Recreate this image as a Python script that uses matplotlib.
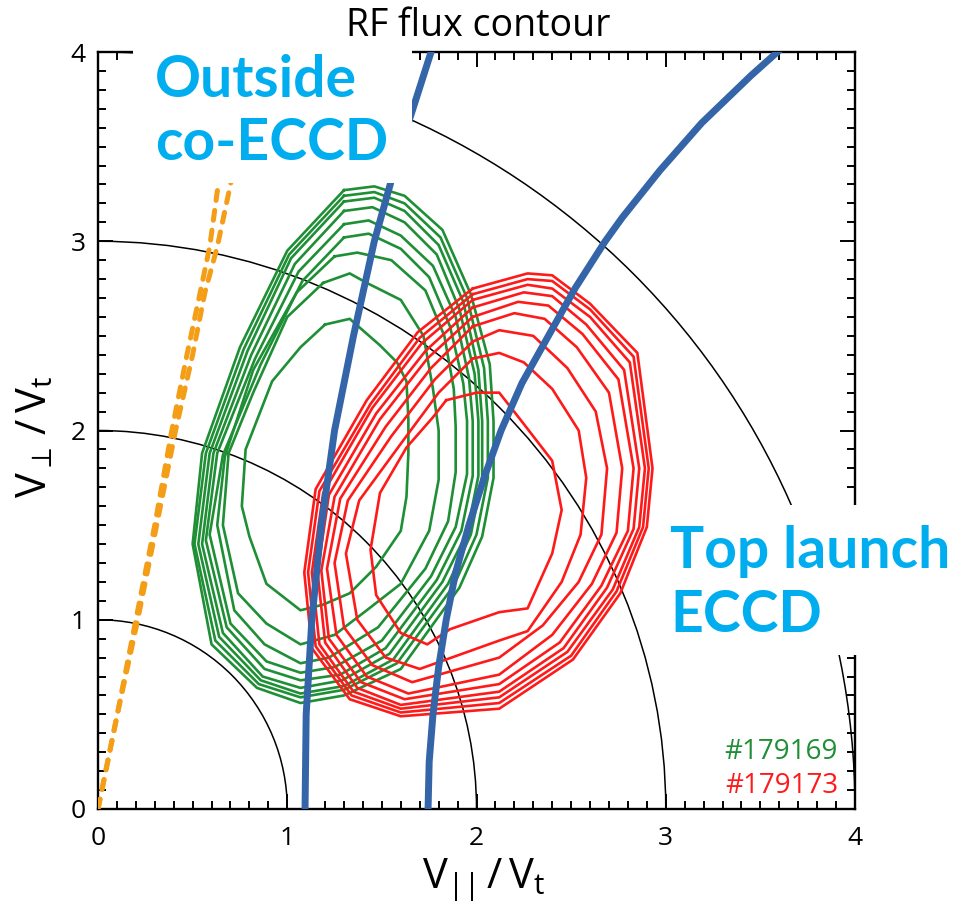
import matplotlib.pyplot as plt
from matplotlib.patches import Arc, Rectangle
from matplotlib.ticker import MultipleLocator

plt.rcParams['font.family'] = ['Open Sans', 'DejaVu Sans']
plt.rcParams['mathtext.fontset'] = 'custom'
plt.rcParams['mathtext.rm'] = 'Open Sans'
plt.rcParams['mathtext.it'] = 'Open Sans'

# ---- values ----
circle_radii = [1, 2, 3, 4]

# resonance curves (V_par, V_perp)
outside_x = [1.094, 1.10, 1.13, 1.18, 1.25, 1.35, 1.46, 1.60, 1.76]
outside_y = [0.0, 0.5, 1.0, 1.5, 2.0, 2.5, 3.0, 3.5, 4.0]
top_x = [1.744, 1.75, 1.77, 1.80, 1.84, 1.89, 1.96, 2.04, 2.13, 2.24, 2.38,
         2.52, 2.68, 2.77, 2.87, 2.97, 3.08, 3.19, 3.32, 3.45, 3.59]
top_y = [0.0, 0.25, 0.5, 0.75, 1.0, 1.25, 1.5, 1.75, 2.0, 2.25, 2.5,
         2.75, 3.0, 3.125, 3.25, 3.375, 3.5, 3.625, 3.75, 3.875, 4.0]

# dashed orange lines from the origin
orange1_x = [0.0, 0.10, 0.20, 0.30, 0.39, 0.47, 0.54, 0.59, 0.634, 0.66]
orange1_y = [0.0, 0.49, 1.0, 1.5, 2.0, 2.4, 2.73, 2.97, 3.29, 3.5]
orange2_x = [0.0, 0.10, 0.21, 0.31, 0.41, 0.50, 0.565, 0.63, 0.70, 0.74]
orange2_y = [0.0, 0.49, 1.0, 1.5, 2.0, 2.4, 2.73, 2.97, 3.30, 3.5]

# RF flux contours, shot 179169 (outer -> inner)
green_contours = [
    [(1.30, 3.27), (1.46, 3.29), (1.62, 3.24), (1.82, 3.06), (1.97, 2.72), (2.07, 2.35), (2.09, 2.05),
     (2.09, 1.75), (2.03, 1.44), (1.91, 1.17), (1.60, 0.74), (1.30, 0.60), (1.07, 0.56), (0.84, 0.64),
     (0.60, 0.87), (0.50, 1.40), (0.55, 1.88), (0.75, 2.44), (1.00, 2.95)],
    [(1.30, 3.24), (1.46, 3.26), (1.62, 3.20), (1.81, 3.02), (1.95, 2.70), (2.04, 2.33), (2.06, 2.05),
     (2.06, 1.75), (2.00, 1.45), (1.88, 1.18), (1.58, 0.77), (1.30, 0.63), (1.07, 0.59), (0.85, 0.66),
     (0.62, 0.89), (0.51, 1.40), (0.57, 1.88), (0.77, 2.43), (1.01, 2.93)],
    [(1.30, 3.21), (1.46, 3.23), (1.62, 3.16), (1.80, 2.98), (1.93, 2.68), (2.01, 2.32), (2.03, 2.05),
     (2.03, 1.75), (1.97, 1.45), (1.85, 1.19), (1.56, 0.79), (1.30, 0.65), (1.07, 0.61), (0.86, 0.68),
     (0.64, 0.91), (0.53, 1.40), (0.59, 1.88), (0.79, 2.42), (1.02, 2.91)],
    [(1.30, 3.16), (1.45, 3.18), (1.62, 3.10), (1.79, 2.93), (1.91, 2.64), (1.99, 2.30), (2.01, 2.05),
     (2.01, 1.76), (1.95, 1.46), (1.82, 1.20), (1.54, 0.82), (1.29, 0.68), (1.07, 0.64), (0.87, 0.70),
     (0.66, 0.93), (0.55, 1.40), (0.61, 1.88), (0.81, 2.40), (1.04, 2.88)],
    [(1.30, 3.09), (1.43, 3.11), (1.60, 3.03), (1.77, 2.87), (1.89, 2.60), (1.96, 2.28), (1.98, 2.05),
     (1.98, 1.76), (1.92, 1.47), (1.79, 1.21), (1.52, 0.85), (1.28, 0.71), (1.07, 0.68), (0.88, 0.74),
     (0.68, 0.96), (0.57, 1.42), (0.63, 1.88), (0.83, 2.38), (1.06, 2.84)],
    [(1.30, 3.02), (1.43, 3.04), (1.60, 2.96), (1.75, 2.81), (1.86, 2.55), (1.93, 2.25), (1.95, 2.05),
     (1.95, 1.77), (1.89, 1.49), (1.76, 1.23), (1.50, 0.89), (1.25, 0.75), (1.07, 0.72), (0.89, 0.78),
     (0.70, 0.98), (0.59, 1.45), (0.66, 1.87), (0.86, 2.35), (1.08, 2.79)],
    [(1.25, 2.92), (1.37, 2.94), (1.55, 2.90), (1.73, 2.74), (1.83, 2.50), (1.88, 2.22), (1.89, 2.02),
     (1.89, 1.78), (1.85, 1.52), (1.73, 1.27), (1.48, 0.96), (1.22, 0.80), (1.07, 0.77), (0.88, 0.87),
     (0.72, 1.05), (0.63, 1.50), (0.67, 1.86), (0.82, 2.32), (1.05, 2.73)],
    [(1.19, 2.78), (1.33, 2.83), (1.42, 2.78), (1.60, 2.69), (1.72, 2.50), (1.77, 2.22), (1.80, 2.00),
     (1.80, 1.74), (1.75, 1.47), (1.60, 1.19), (1.42, 1.05), (1.25, 0.92), (1.07, 0.87), (0.89, 0.98),
     (0.74, 1.14), (0.66, 1.50), (0.69, 1.88), (0.82, 2.20), (1.00, 2.60)],
    [(1.20, 2.56), (1.33, 2.59), (1.49, 2.45), (1.58, 2.36), (1.63, 2.26), (1.64, 2.06), (1.64, 1.88),
     (1.63, 1.65), (1.60, 1.47), (1.47, 1.28), (1.33, 1.14), (1.19, 1.08), (1.07, 1.05), (0.89, 1.19),
     (0.80, 1.44), (0.76, 1.60), (0.78, 1.90), (0.92, 2.26), (1.07, 2.44)],
]

# RF flux contours, shot 179173 (outer -> inner)
red_contours = [
    [(1.98, 2.75), (2.27, 2.83), (2.40, 2.82), (2.60, 2.67), (2.85, 2.41), (2.93, 1.80), (2.90, 1.49),
     (2.76, 1.14), (2.51, 0.79), (2.12, 0.53), (1.60, 0.49), (1.33, 0.58), (1.13, 0.85), (1.09, 1.25),
     (1.15, 1.69), (1.42, 2.16), (1.69, 2.52)],
    [(1.98, 2.72), (2.27, 2.80), (2.40, 2.79), (2.60, 2.64), (2.83, 2.39), (2.91, 1.80), (2.88, 1.49),
     (2.74, 1.15), (2.50, 0.81), (2.12, 0.56), (1.60, 0.51), (1.34, 0.60), (1.15, 0.86), (1.11, 1.25),
     (1.17, 1.68), (1.44, 2.14), (1.70, 2.49)],
    [(1.98, 2.69), (2.27, 2.77), (2.40, 2.75), (2.60, 2.60), (2.81, 2.36), (2.89, 1.80), (2.86, 1.49),
     (2.72, 1.16), (2.48, 0.83), (2.12, 0.59), (1.60, 0.53), (1.35, 0.62), (1.17, 0.87), (1.13, 1.25),
     (1.19, 1.67), (1.45, 2.12), (1.71, 2.46)],
    [(1.98, 2.65), (2.25, 2.73), (2.40, 2.71), (2.58, 2.56), (2.78, 2.32), (2.86, 1.80), (2.83, 1.48),
     (2.69, 1.17), (2.46, 0.85), (2.12, 0.62), (1.60, 0.55), (1.37, 0.64), (1.20, 0.88), (1.16, 1.25),
     (1.22, 1.66), (1.47, 2.09), (1.73, 2.42)],
    [(1.98, 2.60), (2.22, 2.68), (2.38, 2.66), (2.56, 2.51), (2.75, 2.27), (2.83, 1.80), (2.80, 1.47),
     (2.66, 1.18), (2.44, 0.88), (2.12, 0.66), (1.62, 0.58), (1.39, 0.67), (1.22, 0.90), (1.18, 1.26),
     (1.25, 1.65), (1.49, 2.06), (1.74, 2.38)],
    [(1.98, 2.55), (2.20, 2.62), (2.36, 2.59), (2.53, 2.44), (2.70, 2.20), (2.77, 1.80), (2.74, 1.46),
     (2.61, 1.19), (2.40, 0.92), (2.12, 0.71), (1.64, 0.61), (1.42, 0.70), (1.26, 0.92), (1.21, 1.27),
     (1.28, 1.64), (1.52, 2.02), (1.76, 2.33)],
    [(1.98, 2.47), (2.12, 2.53), (2.30, 2.50), (2.48, 2.33), (2.63, 2.10), (2.69, 1.80), (2.66, 1.45),
     (2.54, 1.20), (2.35, 0.97), (2.12, 0.80), (1.66, 0.67), (1.45, 0.76), (1.30, 0.96), (1.25, 1.30),
     (1.32, 1.63), (1.55, 1.97), (1.78, 2.27)],
    [(1.98, 2.38), (2.12, 2.41), (2.25, 2.36), (2.40, 2.22), (2.54, 2.00), (2.58, 1.75), (2.55, 1.45),
     (2.45, 1.20), (2.27, 0.94), (2.12, 0.89), (1.70, 0.74), (1.52, 0.80), (1.37, 1.00), (1.31, 1.35),
     (1.38, 1.63), (1.60, 1.93), (1.80, 2.20)],
    [(1.84, 2.16), (2.00, 2.20), (2.12, 2.20), (2.23, 2.06), (2.40, 1.84), (2.45, 1.58), (2.40, 1.35),
     (2.27, 1.06), (2.12, 1.04), (1.86, 0.95), (1.74, 0.87), (1.60, 0.93), (1.47, 1.13), (1.44, 1.37),
     (1.49, 1.67), (1.63, 1.91), (1.77, 2.07)],
]

shots = ['#179169', '#179173']

GREEN = '#1f8f36'
RED = '#ff1a1a'
BLUE = '#3465a8'
ORANGE = '#f49e17'
CYAN = '#00aeef'

W, H = 959, 902
fig = plt.figure(figsize=(W / 100, H / 100), dpi=100)
ax = fig.add_axes([98 / W, 1 - 809 / H, 757 / W, 757 / H])

# reference circles |v| = const
for r in circle_radii:
    ax.add_patch(Arc((0, 0), 2 * r, 2 * r, theta1=0, theta2=90,
                     color='black', lw=1.1, zorder=1))

for c in green_contours:
    xs = [p[0] for p in c] + [c[0][0]]
    ys = [p[1] for p in c] + [c[0][1]]
    ax.plot(xs, ys, color=GREEN, lw=1.9, zorder=2)

for c in red_contours:
    xs = [p[0] for p in c] + [c[0][0]]
    ys = [p[1] for p in c] + [c[0][1]]
    ax.plot(xs, ys, color=RED, lw=1.9, zorder=3)

ax.plot(outside_x, outside_y, color=BLUE, lw=5, zorder=4)
ax.plot(top_x, top_y, color=BLUE, lw=5, zorder=4)

for ox, oy in [(orange1_x, orange1_y), (orange2_x, orange2_y)]:
    ax.plot(ox, oy, color=ORANGE, lw=3.6, linestyle=(0, (2, 2)),
            dash_capstyle='round', zorder=5)

ax.set_xlim(0, 4)
ax.set_ylim(0, 4)
ax.set_xticks([0, 1, 2, 3, 4])
ax.set_yticks([0, 1, 2, 3, 4])
ax.xaxis.set_minor_locator(MultipleLocator(0.1))
ax.yaxis.set_minor_locator(MultipleLocator(0.1))
ax.tick_params(which='both', direction='in', top=True, right=True, width=1.4)
ax.tick_params(which='major', length=10.8, labelsize=19)
ax.tick_params(which='minor', length=5.8)
ax.tick_params(axis='x', pad=12)
ax.tick_params(axis='y', pad=9)
for s in ax.spines.values():
    s.set_linewidth(1.7)

ax.text(3.91, 0.264, shots[0], color=GREEN, fontsize=20, ha='right', va='baseline', zorder=6)
ax.text(3.91, 0.085, shots[1], color=RED, fontsize=20, ha='right', va='baseline', zorder=6)

# titles and axis labels
fig.text(478 / W, 1 - 36 / H, 'RF flux contour', fontsize=27, ha='center', va='baseline')
fig.text(484 / W, 1 - 888 / H, r'$\mathregular{V_{||}\,/\,V_t}$', fontsize=30,
         ha='center', va='baseline')
fig.text(35 / W, 1 - 437 / H, r'$\mathregular{V_{\perp}\,/\,V_t}$', fontsize=30,
         ha='center', va='center', rotation=90)

# white boxes behind the annotations
fig.add_artist(Rectangle((133 / W, 1 - 183 / H), (412 - 133) / W, (183 - 45) / H,
                         transform=fig.transFigure, facecolor='white', edgecolor='none', zorder=2))
fig.add_artist(Rectangle((660 / W, 1 - 655 / H), (W - 660) / W, 150 / H,
                         transform=fig.transFigure, facecolor='white', edgecolor='none', zorder=2))

ann = dict(color=CYAN, fontsize=41, fontweight='bold', family=['Lato', 'DejaVu Sans'],
           ha='left', va='baseline', zorder=4)
fig.text(155 / W, 1 - 97 / H, 'Outside', **ann)
fig.text(155 / W, 1 - 160 / H, 'co-ECCD', **ann)
fig.text(670 / W, 1 - 568 / H, 'Top launch', **ann)
fig.text(670 / W, 1 - 632 / H, 'ECCD', **ann)

fig.savefig('out.png', dpi=100)
